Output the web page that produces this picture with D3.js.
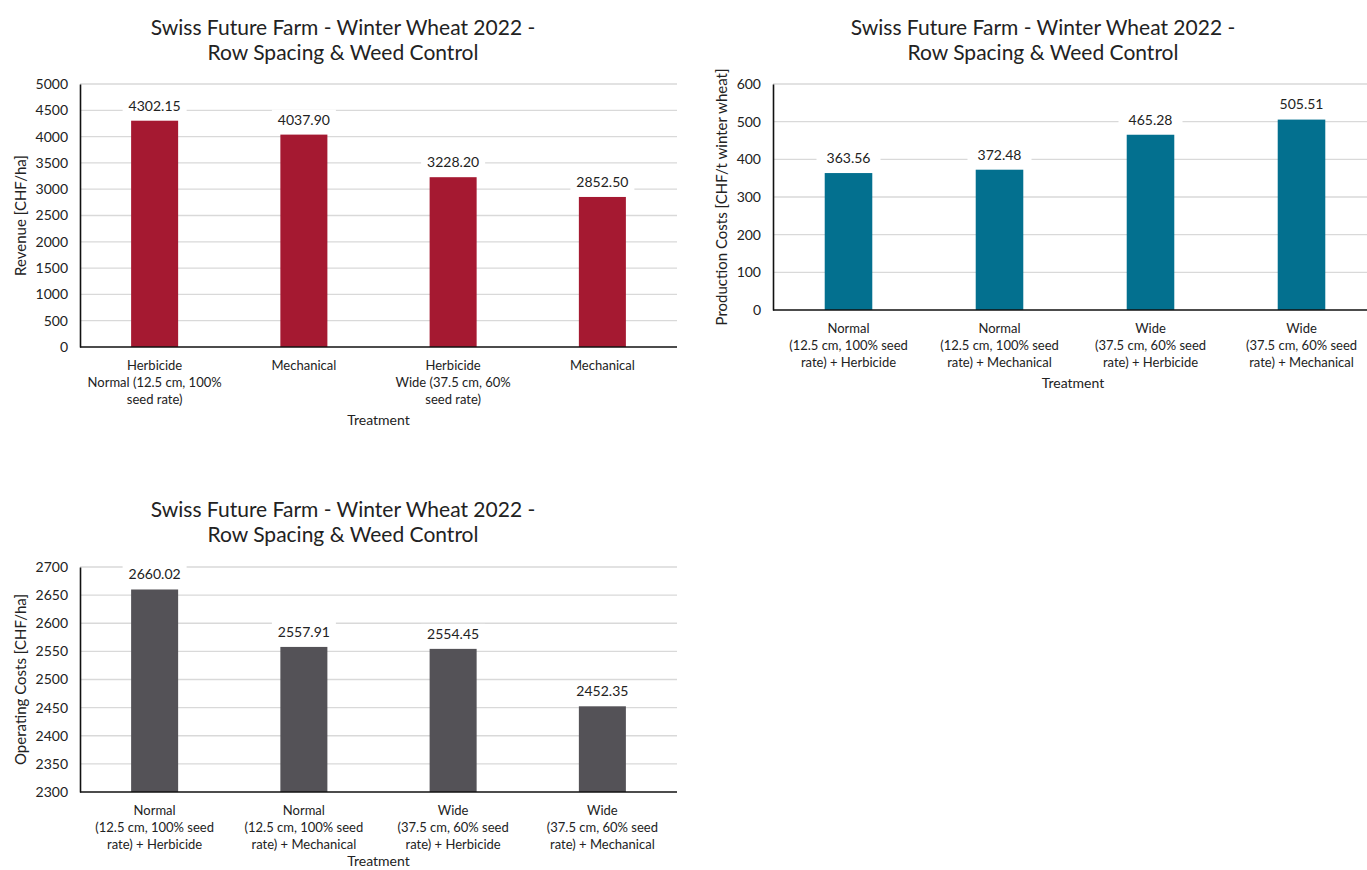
<!DOCTYPE html>
<html>
<head>
<meta charset="utf-8">
<script src="https://cdn.jsdelivr.net/npm/d3@7"></script>
<style>
  body { margin: 0; background: #fff; }
  svg text { font-family: Lato, "Open Sans", sans-serif; fill: #222; }
</style>
</head>
<body>
<div id="chart"></div>
<script>
// chart data
var titleLines = ["Swiss Future Farm - Winter Wheat 2022 -", "Row Spacing & Weed Control"];

var revenueLabels = [
  ["Herbicide", "Normal (12.5 cm, 100%", "seed rate)"],
  ["Mechanical"],
  ["Herbicide", "Wide (37.5 cm, 60%", "seed rate)"],
  ["Mechanical"]
];
var revenueValues = [4302.15, 4037.90, 3228.20, 2852.50];
var revenueTicks = [0, 500, 1000, 1500, 2000, 2500, 3000, 3500, 4000, 4500, 5000];

var treatmentLabels = [
  ["Normal", "(12.5 cm, 100% seed", "rate) + Herbicide"],
  ["Normal", "(12.5 cm, 100% seed", "rate) + Mechanical"],
  ["Wide", "(37.5 cm, 60% seed", "rate) + Herbicide"],
  ["Wide", "(37.5 cm, 60% seed", "rate) + Mechanical"]
];
var productionValues = [363.56, 372.48, 465.28, 505.51];
var productionTicks = [0, 100, 200, 300, 400, 500, 600];

var operatingValues = [2660.02, 2557.91, 2554.45, 2452.35];
var operatingTicks = [2300, 2350, 2400, 2450, 2500, 2550, 2600, 2650, 2700];

var svg = d3.select("#chart").append("svg")
  .attr("width", 1367)
  .attr("height", 870);

function drawChart(opt) {
  var g = svg.append("g");

  var x = d3.scaleBand()
    .domain(opt.values.map(function (d, i) { return i; }))
    .range([opt.left, opt.right])
    .paddingInner(0.685)
    .paddingOuter(0.3425);

  var y = d3.scaleLinear()
    .domain([opt.ticks[0], opt.ticks[opt.ticks.length - 1]])
    .range([opt.bottom, opt.top]);

  // title
  g.append("text")
    .attr("x", opt.titleX)
    .attr("y", opt.titleY)
    .attr("text-anchor", "middle")
    .style("font-size", "21px")
    .selectAll("tspan")
    .data(titleLines)
    .enter().append("tspan")
      .attr("x", opt.titleX)
      .attr("dy", function (d, i) { return i === 0 ? 0 : 25; })
      .text(function (d) { return d; });

  // gridlines
  g.selectAll("line.grid")
    .data(opt.ticks.slice(1))
    .enter().append("line")
      .attr("class", "grid")
      .attr("x1", opt.left)
      .attr("x2", opt.gridRight || opt.right)
      .attr("y1", function (d) { return y(d); })
      .attr("y2", function (d) { return y(d); })
      .attr("stroke", "#d9d9d9")
      .attr("stroke-width", 1.3);

  // y axis
  var yAxis = d3.axisLeft(y).tickValues(opt.ticks).tickSize(0).tickPadding(12)
    .tickFormat(d3.format("d"));
  var ya = g.append("g")
    .attr("transform", "translate(" + opt.left + ",0)")
    .call(yAxis);
  ya.select(".domain").attr("stroke", "#111").attr("stroke-width", 1.6);
  ya.selectAll("text").style("font-size", "14px").attr("fill", "#222");

  // bars
  g.selectAll("rect.bar")
    .data(opt.values)
    .enter().append("rect")
      .attr("class", "bar")
      .attr("x", function (d, i) { return x(i); })
      .attr("width", x.bandwidth())
      .attr("y", function (d) { return y(d); })
      .attr("height", function (d) { return opt.bottom - y(d); })
      .attr("fill", opt.color);

  // x axis line
  var xAxis = d3.axisBottom(x).tickSize(0).tickFormat("");
  var xa = g.append("g")
    .attr("transform", "translate(0," + opt.bottom + ")")
    .call(xAxis);
  xa.select(".domain")
    .attr("d", "M" + opt.left + ",0H" + (opt.gridRight || opt.right))
    .attr("stroke", "#111").attr("stroke-width", 1.6);

  // data labels with white backdrop
  var lab = g.selectAll("g.vlabel")
    .data(opt.values)
    .enter().append("g")
      .attr("class", "vlabel")
      .attr("transform", function (d, i) {
        return "translate(" + (x(i) + x.bandwidth() / 2) + "," + (y(d) - 15) + ")";
      });
  lab.append("rect")
    .attr("x", -32).attr("y", -10)
    .attr("width", 64).attr("height", 20)
    .attr("fill", "#fff");
  lab.append("text")
    .attr("text-anchor", "middle")
    .attr("dy", "0.35em")
    .style("font-size", "14px")
    .text(function (d) { return d.toFixed(2); });

  // category labels
  g.selectAll("text.cat")
    .data(opt.labels)
    .enter().append("text")
      .attr("class", "cat")
      .attr("text-anchor", "middle")
      .style("font-size", "13px")
      .attr("transform", function (d, i) {
        return "translate(" + (x(i) + x.bandwidth() / 2) + "," + (opt.bottom + 18) + ")";
      })
      .each(function (lines) {
        d3.select(this).selectAll("tspan")
          .data(lines)
          .enter().append("tspan")
            .attr("x", 0)
            .attr("y", function (d, j) { return j * 17; })
            .attr("dy", "0.35em")
            .text(function (d) { return d; });
      });

  // axis titles
  g.append("text")
    .attr("x", (opt.left + opt.right) / 2 + opt.xTitleShift)
    .attr("y", opt.bottom + opt.xTitleGap)
    .attr("dy", "0.35em")
    .attr("text-anchor", "middle")
    .style("font-size", "14px")
    .text("Treatment");

  g.append("text")
    .attr("transform", "translate(" + opt.yTitleX + "," + ((opt.top + opt.bottom) / 2) + ") rotate(-90)")
    .attr("dy", "0.35em")
    .attr("text-anchor", "middle")
    .style("font-size", "15px")
    .text(opt.yTitle);
}

drawChart({
  values: revenueValues, labels: revenueLabels, ticks: revenueTicks,
  left: 80, right: 677, top: 84, bottom: 347,
  color: "#a51931", titleX: 343, titleY: 35,
  yTitle: "Revenue [CHF/ha]", yTitleX: 21, xTitleShift: 0, xTitleGap: 73
});

drawChart({
  values: productionValues, labels: treatmentLabels, ticks: productionTicks,
  left: 773, right: 1377, gridRight: 1367, top: 84, bottom: 310,
  color: "#03708f", titleX: 1043, titleY: 35,
  yTitle: "Production Costs [CHF/t winter wheat]", yTitleX: 722, xTitleShift: -2, xTitleGap: 73
});

drawChart({
  values: operatingValues, labels: treatmentLabels, ticks: operatingTicks,
  left: 80, right: 677, top: 567, bottom: 792,
  color: "#545257", titleX: 343, titleY: 517,
  yTitle: "Operating Costs [CHF/ha]", yTitleX: 21, xTitleShift: 0, xTitleGap: 69
});
</script>
</body>
</html>
